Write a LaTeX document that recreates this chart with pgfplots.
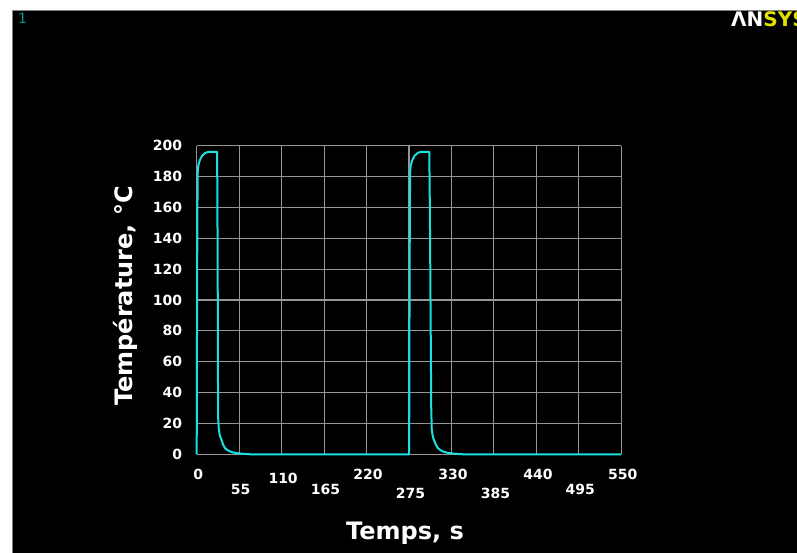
\documentclass[border=0pt]{standalone}
\usepackage{fontspec}
\setmainfont{DejaVu Sans}
\newfontfamily\monofont{DejaVu Sans Mono}
\usepackage{pgfplots}
\pgfplotsset{compat=1.18}
\definecolor{cyanline}{RGB}{25,225,225}
\definecolor{gridgray}{RGB}{150,150,150}
\definecolor{leftgray}{RGB}{215,215,215}
\definecolor{botgray}{RGB}{185,185,185}
\definecolor{teal1}{RGB}{0,150,150}
\definecolor{ansysyellow}{RGB}{225,225,0}
\newcommand{\xl}[2]{\raisebox{-#1pt}[0pt][0pt]{#2}}
\begin{document}
\begin{tikzpicture}[x=1pt,y=1pt]
\path[use as bounding box] (0,0) rectangle (797,553);
\fill[white] (0,0) rectangle (797,553);
\fill[black] (12,0) rectangle (797,543);
\draw[gray, line width=0.8pt] (12,0) -- (12,543) -- (797,543);
\node[anchor=base west, text=teal1, font=\monofont\fontsize{14}{14}\selectfont, inner sep=0pt] at (18,529) {1};
\begin{scope}
\clip (0,0) rectangle (797,553);
\node[anchor=base west, font=\bfseries\fontsize{20}{20}\selectfont, inner sep=0pt] at (731,526.3) {\textcolor{white}{ΛN}\textcolor{ansysyellow}{SYS}};
\end{scope}
\begin{axis}[
  at={(196.7pt,98.7pt)}, anchor=south west,
  scale only axis, width=424.6pt, height=308.6pt,
  xmin=0, xmax=550, ymin=0, ymax=200,
  clip=false,
  axis line style={draw=none},
  major tick length=0pt,
  xtick={0,55,...,550},
  xticklabels={\xl{0}{0},\xl{15}{55},\xl{3.3}{110},\xl{15}{165},\xl{0}{220},\xl{18.3}{275},\xl{0}{330},\xl{18.3}{385},\xl{0}{440},\xl{15}{495},\xl{0}{550}},
  ytick={0,20,...,200},
  grid=major,
  major grid style={color=gridgray, line width=1.1pt},
  extra x ticks={0}, extra x tick labels={},
  extra x tick style={grid style={color=leftgray, line width=1.8pt}},
  extra y ticks={0}, extra y tick labels={},
  extra y tick style={grid style={color=botgray, line width=1.8pt}},
  /pgf/number format/assume math mode=true,
  xticklabel style={anchor=base, yshift=-25.7pt, xshift=1.5pt, text=white, font=\bfseries\fontsize{14}{14}\selectfont},
  yticklabel style={anchor=east, inner sep=0pt, xshift=-14.4pt, text=white, font=\bfseries\fontsize{14}{14}\selectfont},
  xlabel={Temps, s},
  ylabel={Température, °C},
  xlabel style={at={(axis description cs:0.4906,-0.2777)}, anchor=base, text=white, font=\bfseries\fontsize{24}{24}\selectfont},
  ylabel style={at={(axis description cs:-0.1512,0.513)}, anchor=base, text=white, font=\bfseries\fontsize{24}{24}\selectfont},
]
\addplot[color=cyanline, line width=2pt, line join=round] table {
x y
0 0
0.6 120
1.2 182
2 187
4 190.5
7 193.5
11 195.3
15 196
26.4 196
26.8 165
27.3 100
27.7 25
28.5 17
30 12
32 9.7
34 6.5
36.3 4.3
39 3
42.8 1.9
47 1.2
51.5 0.8
60 0.3
70 0
275.2 0
275.8 120
276.4 182
277.2 187
279.2 190.5
282.2 193.5
286.2 195.3
290.2 196
301.3 196
302 160
303 90
303.8 30
304.5 16
306 11
308 8.5
310 6
312.5 4
315 3
318.5 1.9
323 1.2
327 0.8
335 0.3
345 0
550 0
};
\end{axis}
\end{tikzpicture}
\end{document}
